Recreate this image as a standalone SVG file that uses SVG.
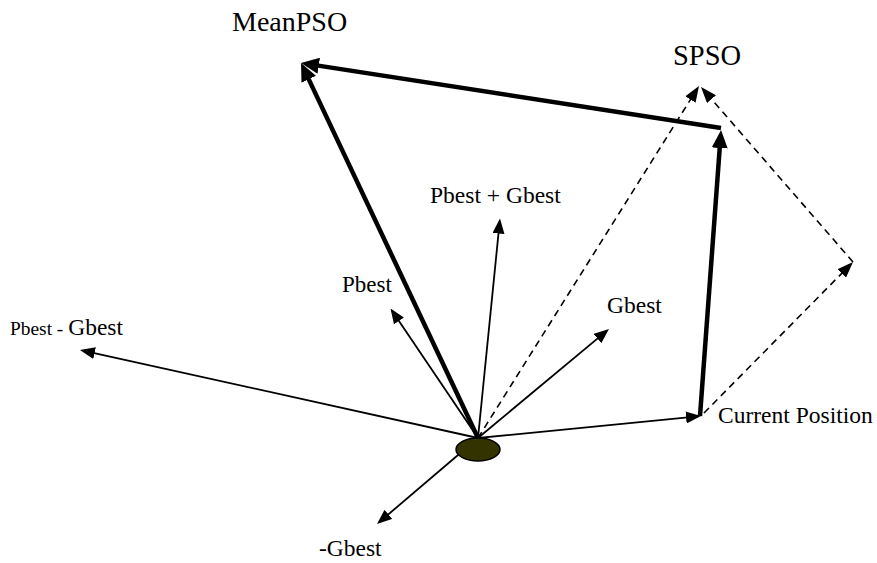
<svg xmlns="http://www.w3.org/2000/svg" width="877" height="563" viewBox="0 0 877 563">
<style>
.lbl{font-family:"Liberation Serif","Times New Roman",serif;fill:#000}
.thin{stroke:#000;stroke-width:1.8;fill:none;marker-end:url(#ahThin)}
.thick{stroke:#000;stroke-width:4.5;fill:none;marker-end:url(#ahThick)}
.dash{stroke:#000;stroke-width:1.6;fill:none;stroke-dasharray:7 5;marker-end:url(#ahDash)}
</style>
<defs>
<marker id="ahThin" markerUnits="userSpaceOnUse" viewBox="0 0 15 12" markerWidth="15" markerHeight="12" refX="12" refY="6" orient="auto"><path d="M0,0 L15,6 L0,12 z" fill="#000"/></marker>
<marker id="ahThick" markerUnits="userSpaceOnUse" viewBox="0 0 18 16" markerWidth="18" markerHeight="16" refX="12" refY="8" orient="auto"><path d="M0,0 L18,8 L0,16 z" fill="#000"/></marker>
<marker id="ahDash" markerUnits="userSpaceOnUse" viewBox="0 0 16 12" markerWidth="16" markerHeight="12" refX="13" refY="6" orient="auto"><path d="M0,0 L16,6 L0,12 z" fill="#000"/></marker>
</defs>
<rect width="877" height="563" fill="#fff"/>
<g id="connectors">
<line class="thin" x1="478" y1="438" x2="82.9" y2="350.6"/>
<line class="thin" x1="478" y1="438" x2="392.2" y2="311.0"/>
<line class="thin" x1="478" y1="438" x2="499.7" y2="221.5"/>
<line class="thin" x1="478" y1="438" x2="606.7" y2="330.9"/>
<line class="thin" x1="478" y1="438" x2="379.3" y2="522.1"/>
<line class="thin" x1="478" y1="438" x2="698.0" y2="416.3"/>
<line class="dash" x1="478" y1="438" x2="697.4" y2="88.5"/>
<line class="dash" x1="704" y1="413" x2="850.9" y2="264.1"/>
<line class="dash" x1="853" y1="262" x2="703" y2="89.3"/>
<line class="thick" x1="478" y1="438" x2="303.6" y2="68.4"/>
<line class="thick" x1="721" y1="128" x2="306.9" y2="63.9"/>
<line class="thick" x1="700" y1="416" x2="720.6" y2="136"/>
</g>
<g id="origin"><ellipse cx="478" cy="449.5" rx="22" ry="11.5" fill="#333300" stroke="#000" stroke-width="1.5"/></g>
<g id="meanpso"><text class="lbl" x="232" y="31" font-size="28">MeanPSO</text></g>
<g id="spso"><text class="lbl" x="673" y="65" font-size="28.5">SPSO</text></g>
<g id="pbest-plus-gbest"><text class="lbl" x="430" y="203" font-size="23.5">Pbest + Gbest</text></g>
<g id="pbest"><text class="lbl" x="342" y="291.5" font-size="23">Pbest</text></g>
<g id="gbest"><text class="lbl" x="607" y="313" font-size="23.5">Gbest</text></g>
<g id="pbest-minus-gbest"><text class="lbl" x="10" y="335"><tspan font-size="19.4">Pbest - </tspan><tspan font-size="23.5">Gbest</tspan></text></g>
<g id="current-position"><text class="lbl" x="718" y="423" font-size="23.5">Current Position</text></g>
<g id="minus-gbest"><text class="lbl" x="319" y="556" font-size="23.5">-Gbest</text></g>
</svg>
